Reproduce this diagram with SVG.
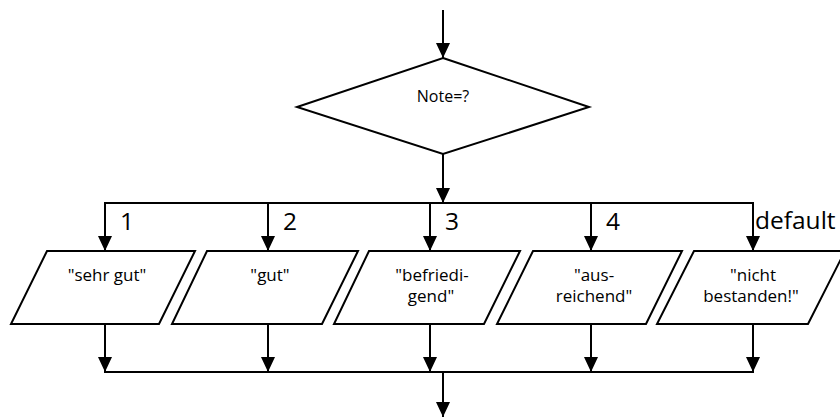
<svg xmlns="http://www.w3.org/2000/svg" width="840" height="417" viewBox="0 0 840 417">
<style>
.shape{fill:#fff;stroke:#000;stroke-width:2;stroke-linejoin:miter}
.conn{fill:none;stroke:#000;stroke-width:2}
.t{font-family:"Open Sans","Noto Sans",sans-serif;fill:#000;text-anchor:middle;font-size:17px}
.lbl{font-family:"Open Sans","Noto Sans",sans-serif;fill:#000;font-size:24.5px}
</style>
<defs>
<marker id="ah" markerUnits="userSpaceOnUse" markerWidth="16" markerHeight="16" viewBox="0 0 16 16" refX="15" refY="8" orient="auto">
<path d="M0,1 L15,8 L0,15 Z" fill="#000"/>
</marker>
</defs>
<rect width="840" height="417" fill="#fff"/>
<g id="connectors">
<line class="conn" x1="443" y1="10" x2="443" y2="58" marker-end="url(#ah)"/>
<line class="conn" x1="443" y1="154" x2="443" y2="203" marker-end="url(#ah)"/>
<line class="conn" x1="104" y1="203" x2="754" y2="203"/>
<line class="conn" x1="105" y1="203" x2="105" y2="251" marker-end="url(#ah)"/>
<line class="conn" x1="268" y1="203" x2="268" y2="251" marker-end="url(#ah)"/>
<line class="conn" x1="430" y1="203" x2="430" y2="251" marker-end="url(#ah)"/>
<line class="conn" x1="591" y1="203" x2="591" y2="251" marker-end="url(#ah)"/>
<line class="conn" x1="753" y1="203" x2="753" y2="251" marker-end="url(#ah)"/>
<line class="conn" x1="105" y1="324" x2="105" y2="372" marker-end="url(#ah)"/>
<line class="conn" x1="268" y1="324" x2="268" y2="372" marker-end="url(#ah)"/>
<line class="conn" x1="430" y1="324" x2="430" y2="372" marker-end="url(#ah)"/>
<line class="conn" x1="591" y1="324" x2="591" y2="372" marker-end="url(#ah)"/>
<line class="conn" x1="753" y1="324" x2="753" y2="372" marker-end="url(#ah)"/>
<line class="conn" x1="104" y1="372" x2="754" y2="372"/>
<line class="conn" x1="443" y1="372" x2="443" y2="417" marker-end="url(#ah)"/>
<text class="lbl" x="120" y="230">1</text>
<text class="lbl" x="283" y="230">2</text>
<text class="lbl" x="445" y="230">3</text>
<text class="lbl" x="606" y="230">4</text>
<text class="lbl" x="755" y="229">default</text>
</g>
<g id="decision">
<polygon class="shape" points="443,58 589,107 443,154 297,107"/>
<text class="t" x="443" y="102" style="font-size:16px">Note=?</text>
</g>
<g id="case1">
<polygon class="shape" points="47,251 195,251 159,324 11,324"/>
<text class="t" x="107" y="281">"sehr gut"</text>
</g>
<g id="case2">
<polygon class="shape" points="207,251 358,251 322,324 172,324"/>
<text class="t" x="270" y="281">"gut"</text>
</g>
<g id="case3">
<polygon class="shape" points="369,251 520,251 484,324 334,324"/>
<text class="t" x="432" y="281">"befriedi-</text>
<text class="t" x="431" y="302">gend"</text>
</g>
<g id="case4">
<polygon class="shape" points="533,251 682,251 646,324 497,324"/>
<text class="t" x="594" y="281">"aus-</text>
<text class="t" x="594" y="302">reichend"</text>
</g>
<g id="case5">
<polygon class="shape" points="694,251 845,251 808,324 657,324"/>
<text class="t" x="753" y="281">"nicht</text>
<text class="t" x="751" y="302">bestanden!"</text>
</g>
</svg>
